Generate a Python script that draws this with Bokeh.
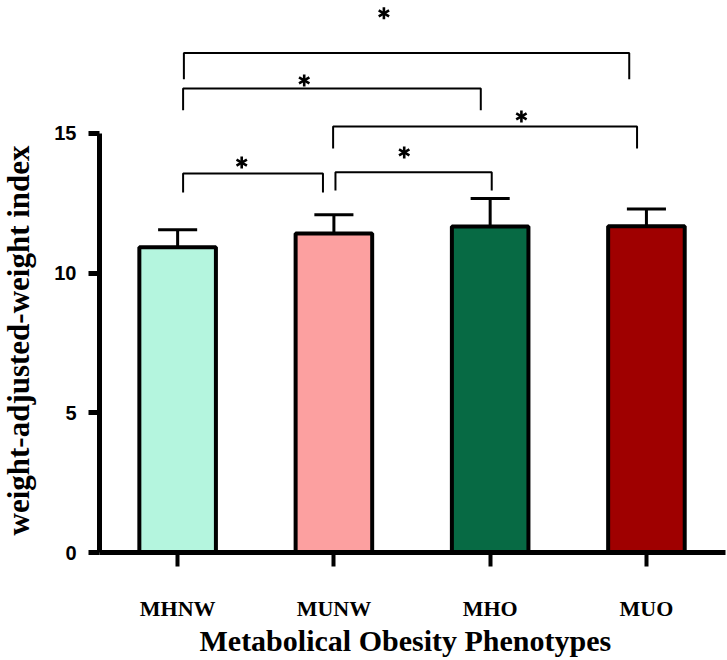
from bokeh.plotting import figure
from bokeh.models import Range1d, FixedTicker, Title
from bokeh.embed import file_html
from bokeh.resources import INLINE

# ---- data ----
categories = ["MHNW", "MUNW", "MHO", "MUO"]
means = [10.93, 11.42, 11.67, 11.68]
sd = [0.62, 0.67, 1.00, 0.62]
colors = ["#B4F5DE", "#FCA0A0", "#076A44", "#9F0000"]

# significance brackets (data units)
bracket_x0 = [0.04, 0.035, 0.995, 1.01, 0.035]
bracket_x1 = [2.89, 1.94, 2.94, 2.01, 0.93]
bracket_top = [17.88, 16.61, 15.25, 13.61, 13.57]
bracket_bottom = [16.94, 15.83, 14.46, 12.96, 12.89]
star_x = [1.32, 0.81, 2.20, 1.45, 0.41]
star_y = [19.30, 16.90, 15.61, 14.32, 13.96]

y_ticks = [0, 5, 10, 15]
x_title = "Metabolical Obesity Phenotypes"
y_title = "weight-adjusted-weight index"

idx = list(range(len(categories)))

p = figure(width=727, height=660, output_backend="svg", toolbar_location=None,
           x_range=Range1d(-0.5, 3.506), y_range=Range1d(0, 19.76),
           min_border_left=98, min_border_right=2, min_border_top=0, min_border_bottom=108)
p.outline_line_color = None
p.xgrid.visible = False
p.ygrid.visible = False

# bars
p.vbar(x=idx, top=means, width=0.49, bottom=0, fill_color=colors,
       line_color="black", line_width=4)

# error bars (upper only)
upper = [m + s for m, s in zip(means, sd)]
p.segment(x0=idx, y0=means, x1=idx, y1=upper, line_color="black", line_width=3)
p.segment(x0=[i - 0.125 for i in idx], y0=upper, x1=[i + 0.125 for i in idx], y1=upper,
          line_color="black", line_width=3)

# brackets
xs = [[a, a, b, b] for a, b in zip(bracket_x0, bracket_x1)]
ys = [[lo, hi, hi, lo] for lo, hi in zip(bracket_bottom, bracket_top)]
p.multi_line(xs=xs, ys=ys, line_color="black", line_width=2)

# asterisks: three rotated dashes each (six arms)
for ang in (90, 30, -30):
    p.scatter(x=star_x, y=star_y, marker="dash", size=12, angle=ang, angle_units="deg",
              line_color="black", line_width=2.6)

# y axis
yax = p.yaxis[0]
yax.ticker = FixedTicker(ticks=y_ticks)
yax.bounds = (0, 15)
yax.axis_line_width = 5
yax.axis_line_color = "black"
yax.major_tick_line_width = 5
yax.major_tick_out = 11
yax.major_tick_in = 0
yax.minor_tick_line_color = None
yax.major_label_text_font = "Liberation Sans"
yax.major_label_text_font_style = "bold"
yax.major_label_text_font_size = "20px"
yax.major_label_text_color = "black"
yax.major_label_standoff = 12
# blank spacer label: widens the axis panel so the title sits further out
yax.axis_label = " "
yax.axis_label_text_font_size = "1px"
yax.axis_label_text_color = "white"
yax.axis_label_standoff = 10

# x axis
xax = p.xaxis[0]
xax.ticker = FixedTicker(ticks=idx)
xax.major_label_overrides = {i: c for i, c in zip(idx, categories)}
xax.axis_line_width = 5
xax.axis_line_color = "black"
xax.major_tick_line_width = 4
xax.major_tick_out = 14
xax.major_tick_in = 0
xax.minor_tick_line_color = None
xax.major_label_text_font = "Liberation Serif"
xax.major_label_text_font_style = "bold"
xax.major_label_text_font_size = "22px"
xax.major_label_text_color = "black"
xax.major_label_standoff = 29

# x title below the tick labels, shifted to the reference's centre
p.add_layout(Title(text=x_title, align="left", offset=100, vertical_align="top", standoff=0,
                   text_font="Liberation Serif", text_font_style="bold",
                   text_font_size="30px", text_color="black"), "below")

# y title placed in the left panel, starting near the bottom of the 0-15 axis
p.add_layout(Title(text=y_title, align="left", offset=17, vertical_align="top", standoff=0,
                   text_font="Liberation Serif", text_font_style="bold",
                   text_font_size="31px", text_color="black"), "left")

open("out.html", "w").write(file_html(p, INLINE))
